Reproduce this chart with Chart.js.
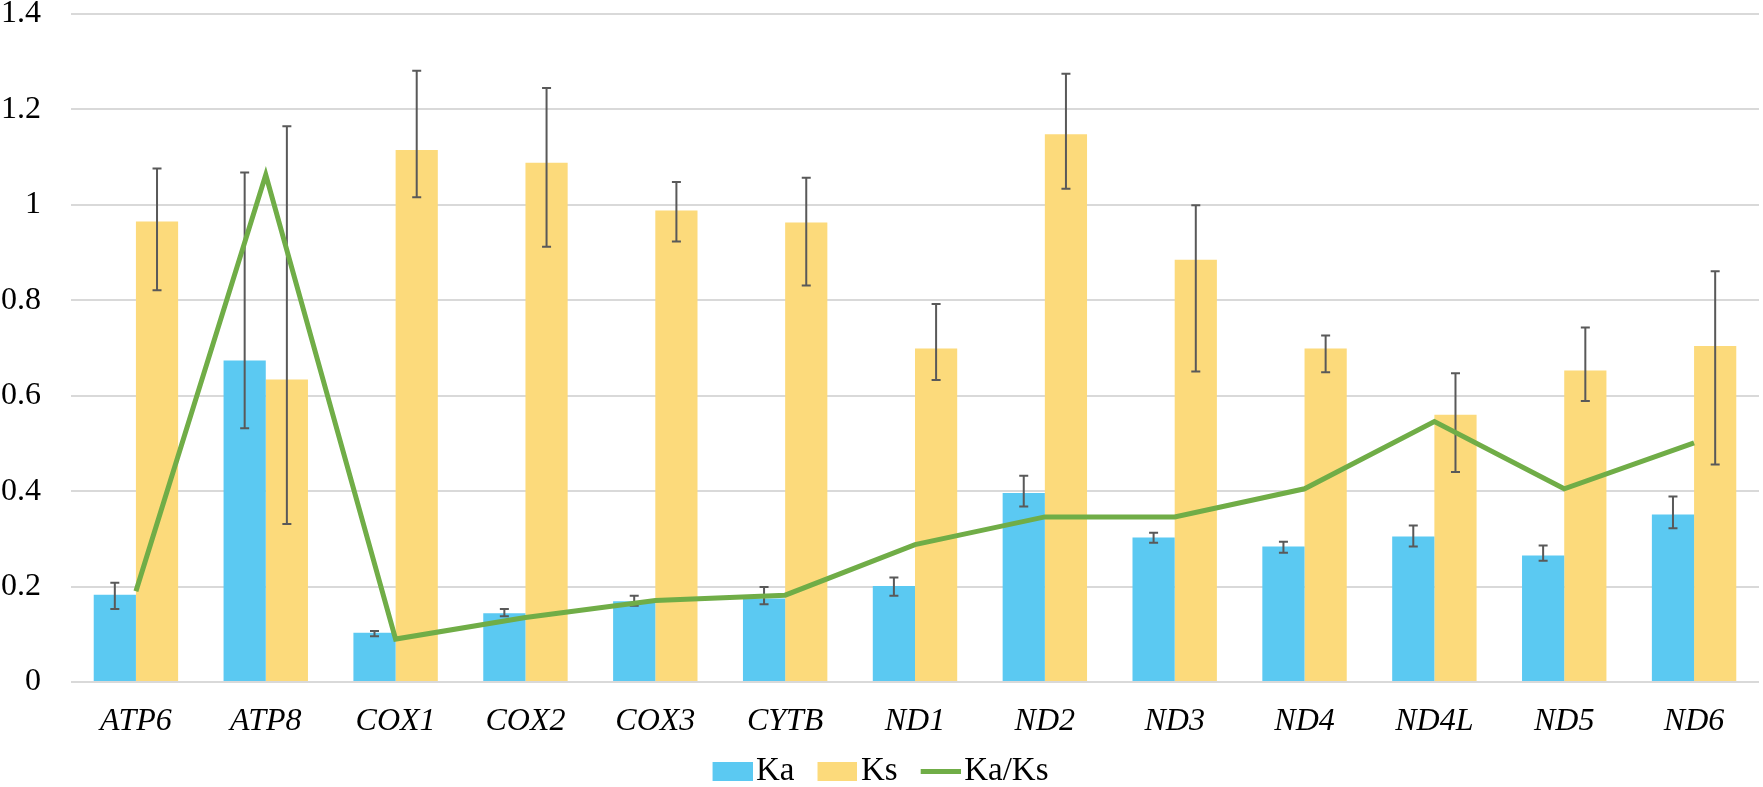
<!DOCTYPE html>
<html>
<head>
<meta charset="utf-8">
<script src="https://cdn.jsdelivr.net/npm/chart.js@4.4.1/dist/chart.umd.min.js"></script>
<style>
  html, body { margin: 0; padding: 0; background: #fff; }
  #wrap { width: 1763px; height: 787px; position: relative; }
</style>
</head>
<body>
<div id="wrap"><canvas id="chart"></canvas></div>
<script>
const genes = ['ATP6', 'ATP8', 'COX1', 'COX2', 'COX3', 'CYTB', 'ND1', 'ND2', 'ND3', 'ND4', 'ND4L', 'ND5', 'ND6'];

const ka     = [0.183, 0.674, 0.103, 0.144, 0.169, 0.175, 0.201, 0.396, 0.303, 0.284, 0.305, 0.265, 0.351];
const kaLow  = [0.153, 0.532, 0.096, 0.138, 0.160, 0.163, 0.181, 0.368, 0.292, 0.271, 0.284, 0.254, 0.322];
const kaHigh = [0.208, 1.068, 0.107, 0.153, 0.181, 0.199, 0.219, 0.432, 0.313, 0.294, 0.328, 0.286, 0.389];

const ks     = [0.965, 0.634, 1.115, 1.088, 0.988, 0.963, 0.699, 1.148, 0.885, 0.699, 0.560, 0.653, 0.704];
const ksLow  = [0.821, 0.331, 1.016, 0.912, 0.923, 0.831, 0.633, 1.034, 0.651, 0.649, 0.440, 0.589, 0.456];
const ksHigh = [1.076, 1.165, 1.281, 1.245, 1.048, 1.057, 0.792, 1.275, 0.999, 0.726, 0.647, 0.743, 0.861];

const kaks   = [0.190, 1.063, 0.090, 0.135, 0.171, 0.182, 0.288, 0.346, 0.346, 0.405, 0.546, 0.405, 0.501];

const yTicks = [0, 0.2, 0.4, 0.6, 0.8, 1, 1.2, 1.4];
const legendOrder = ['Ka', 'Ks', 'Ka/Ks'];

const BLUE = '#5BC9F2', YELLOW = '#FCDA7B', GREEN = '#70AD47';
const serif = "'Liberation Serif', 'Times New Roman', serif";

// legend swatch: 40px mark with some empty room on the left so it sits close to its text
function swatch(color, h) {
  const c = document.createElement('canvas');
  c.width = 53; c.height = 19;
  const g = c.getContext('2d');
  g.fillStyle = color;
  g.fillRect(13, (19 - h) / 2, 40, h);
  return c;
}
const swatches = { 'Ka': swatch(BLUE, 19), 'Ks': swatch(YELLOW, 19), 'Ka/Ks': swatch(GREEN, 5) };

// error bars drawn right after each bar dataset, so the line stays on top
const errorBars = {
  id: 'errorBars',
  afterDatasetDraw(chart, args) {
    const ds = chart.data.datasets[args.index];
    if (!ds.errLow) return;
    const ctx = chart.ctx;
    const y = chart.scales.y;
    ctx.save();
    ctx.strokeStyle = '#595959';
    ctx.lineWidth = 2;
    args.meta.data.forEach((bar, i) => {
      const x = bar.x;
      const yl = y.getPixelForValue(ds.errLow[i]);
      const yh = y.getPixelForValue(ds.errHigh[i]);
      ctx.beginPath();
      ctx.moveTo(x, yl); ctx.lineTo(x, yh);
      ctx.moveTo(x - 4.5, yl); ctx.lineTo(x + 4.5, yl);
      ctx.moveTo(x - 4.5, yh); ctx.lineTo(x + 4.5, yh);
      ctx.stroke();
    });
    ctx.restore();
  }
};

new Chart(document.getElementById('chart'), {
  data: {
    labels: genes,
    datasets: [
      {
        type: 'line', label: 'Ka/Ks', data: kaks, order: 0,
        borderColor: GREEN, backgroundColor: GREEN,
        borderWidth: 5, pointRadius: 0, tension: 0
      },
      {
        type: 'bar', label: 'Ka', data: ka, order: 1,
        backgroundColor: BLUE, borderWidth: 0,
        errLow: kaLow, errHigh: kaHigh
      },
      {
        type: 'bar', label: 'Ks', data: ks, order: 1,
        backgroundColor: YELLOW, borderWidth: 0,
        errLow: ksLow, errHigh: ksHigh
      }
    ]
  },
  options: {
    responsive: true,
    maintainAspectRatio: false,
    animation: false,
    layout: { padding: { left: 2, right: 4, top: 0, bottom: -11 } },
    datasets: { bar: { categoryPercentage: 0.65, barPercentage: 1 } },
    scales: {
      x: {
        grid: { display: false, drawTicks: false },
        border: { display: false },
        ticks: {
          color: '#000', padding: 20, maxRotation: 0, autoSkip: false,
          font: { family: serif, size: 32, style: 'italic' }
        },
        afterFit(scale) { scale.height = 50; }
      },
      y: {
        min: 0, max: 1.4,
        afterBuildTicks(scale) { scale.ticks = yTicks.map(v => ({ value: v })); },
        grid: { color: '#D9D9D9', lineWidth: 2, drawTicks: false },
        border: { display: false },
        ticks: {
          color: '#000', padding: 30,
          font: { family: serif, size: 32 },
          callback: v => String(v)
        },
        afterFit(scale) {
          scale.width = 69;
          scale.paddingTop = 14;
          scale.paddingBottom = 0;
        }
      }
    },
    plugins: {
      tooltip: { enabled: false },
      legend: {
        position: 'bottom',
        labels: {
          usePointStyle: true, pointStyleWidth: 27, boxHeight: 19,
          padding: 23, color: '#000',
          font: { family: serif, size: 33 },
          generateLabels(chart) {
            const items = Chart.defaults.plugins.legend.labels.generateLabels(chart);
            items.forEach(it => { it.pointStyle = swatches[it.text]; it.lineWidth = 0; });
            return items.sort((a, b) => legendOrder.indexOf(a.text) - legendOrder.indexOf(b.text));
          }
        }
      }
    }
  },
  plugins: [errorBars]
});
</script>
</body>
</html>
